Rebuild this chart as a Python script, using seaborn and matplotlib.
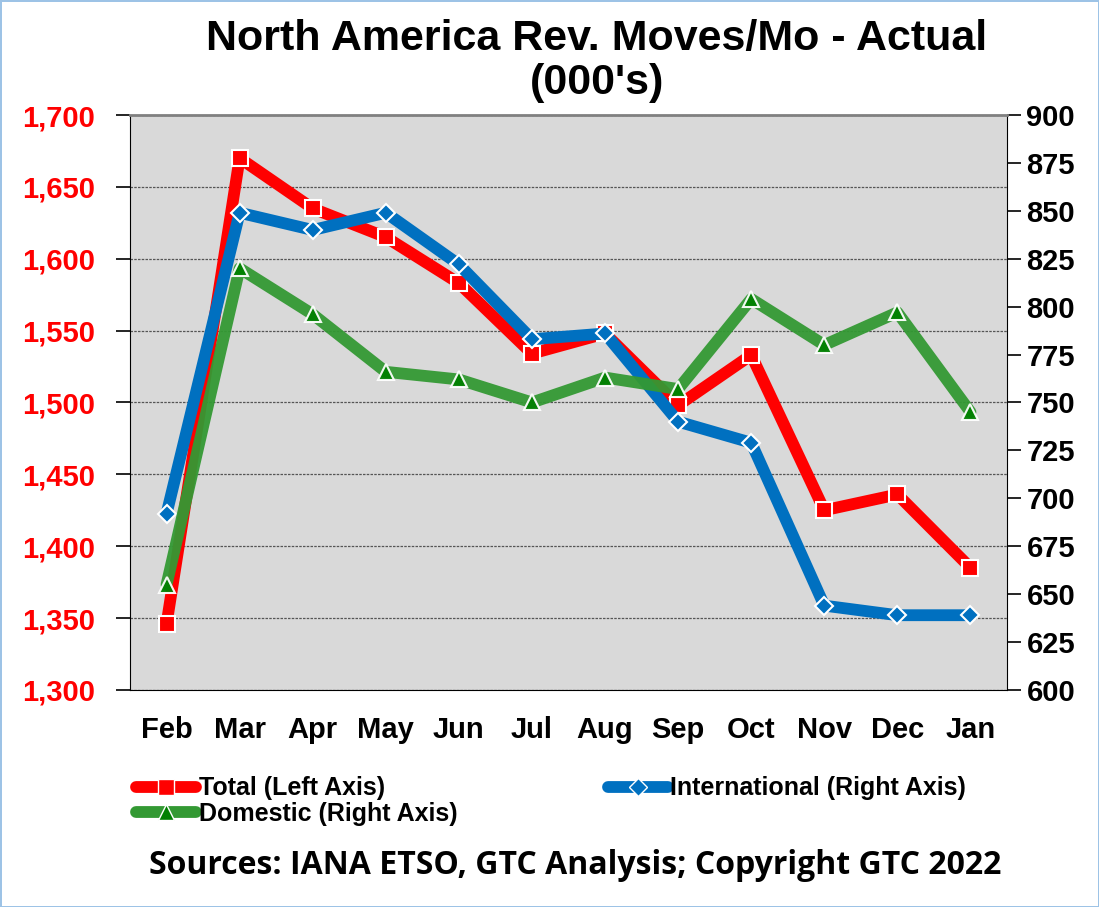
import pandas as pd
import seaborn as sns
import matplotlib.pyplot as plt
from matplotlib.lines import Line2D
from matplotlib.ticker import FuncFormatter

# datos
meses = ['Feb', 'Mar', 'Apr', 'May', 'Jun', 'Jul', 'Aug', 'Sep', 'Oct', 'Nov', 'Dec', 'Jan']
total = [1346, 1670, 1635, 1615, 1583, 1534, 1548, 1498, 1533, 1425, 1436, 1385]
internacional = [692, 849, 840, 849, 822, 783, 786, 740, 729, 644, 639, 639]
domestico = [655, 820, 796, 766, 762, 750, 763, 757, 804, 780, 797, 745]

df = pd.DataFrame({'Mes': meses, 'Total': total,
                   'International': internacional, 'Domestic': domestico})

sns.set_style('white')
plt.rcParams['font.family'] = ['Liberation Sans', 'DejaVu Sans']
plt.rcParams['text.color'] = 'black'

fig = plt.figure(figsize=(10.99, 9.07), dpi=100)
fig.patch.set_edgecolor('#9DC3E6')
fig.patch.set_linewidth(2)
ax = fig.add_axes([0.1183, 0.2393, 0.798, 0.6339])
ax.set_facecolor('#D9D9D9')

rojo = '#FF0000'
azul = '#0070C0'
verde = '#339933'

sns.lineplot(data=df, x='Mes', y='Total', ax=ax, color=rojo, lw=8.5, sort=False,
             marker='s', markersize=11, markerfacecolor=rojo,
             markeredgecolor='white', markeredgewidth=1.5, zorder=3)

ax2 = ax.twinx()
sns.lineplot(data=df, x='Mes', y='International', ax=ax2, color=azul, lw=8.5, sort=False,
             marker='D', markersize=9, markerfacecolor=azul,
             markeredgecolor='white', markeredgewidth=1.5, zorder=3)
sns.lineplot(data=df, x='Mes', y='Domestic', ax=ax2, color=verde, lw=8.5, sort=False,
             alpha=0.95, marker='^', markersize=12, markerfacecolor='#008000',
             markeredgecolor='white', markeredgewidth=1.5, zorder=4)

ax.set_xlim(-0.5, 11.5)
ax.set_ylim(1300, 1700)
ax2.set_ylim(600, 900)
ax.set_yticks(range(1300, 1701, 50))
ax2.set_yticks(range(600, 901, 25))
ax.yaxis.set_major_formatter(FuncFormatter(lambda v, p: f'{int(v):,}'))
ax.grid(axis='y', color='#555555', linestyle=(0, (2, 1)), linewidth=0.9)
ax.set_axisbelow(True)

ax.set_xticks(range(12))
ax.set_xticklabels(meses)
ax.set_xticks([i + 0.5 for i in range(-1, 12)], minor=True)
ax.tick_params(axis='x', which='major', length=0, pad=19, labelsize=21,
               labelcolor='black')
ax.tick_params(axis='x', which='minor', length=8, width=1.2, color='black', direction='out')
ax.tick_params(axis='y', length=10, width=1.2, color='black', direction='out',
               labelsize=21, labelcolor=rojo, pad=15)
ax2.tick_params(axis='y', length=10, width=1.2, color='black', direction='out',
                labelsize=21, labelcolor='black', pad=4)
for lab in ax.get_xticklabels() + ax.get_yticklabels() + ax2.get_yticklabels():
    lab.set_fontweight('bold')

ax.set_xlabel('')
ax.set_ylabel('')
ax2.set_ylabel('')
for a in (ax, ax2):
    for s in a.spines.values():
        s.set_visible(False)
ax.spines['left'].set_visible(True)
ax.spines['left'].set_color('black')
ax.spines['bottom'].set_visible(True)
ax.spines['bottom'].set_color('black')
ax2.spines['right'].set_visible(True)
ax2.spines['right'].set_color('black')
ax2.spines['top'].set_visible(True)
ax2.spines['top'].set_color('#808080')
ax2.spines['top'].set_linewidth(2)

# titulo
fig.text(0.543, 0.957, "North America Rev. Moves/Mo - Actual", ha='center', va='center',
         fontsize=31, fontweight='bold', color='black')
fig.text(0.543, 0.908, "(000's)", ha='center', va='center', fontsize=31,
         fontweight='bold', color='black')

# leyenda
h_total = Line2D([], [], color=rojo, lw=8.5, marker='s', markersize=11,
                 markerfacecolor=rojo, markeredgecolor='white')
h_int = Line2D([], [], color=azul, lw=8.5, marker='D', markersize=9,
               markerfacecolor=azul, markeredgecolor='white')
h_dom = Line2D([], [], color=verde, lw=8.5, marker='^', markersize=12,
               markerfacecolor='#008000', markeredgecolor='white')
fig.legend([h_total, h_dom, h_int],
           ['Total (Left Axis)', 'Domestic (Right Axis)', 'International (Right Axis)'],
           ncol=2, loc='upper left', bbox_to_anchor=(0.115, 0.155), frameon=False,
           prop={'weight': 'bold', 'size': 18}, handlelength=2.4, handletextpad=0.1,
           columnspacing=6.0, labelspacing=0.05, borderaxespad=0, labelcolor='black')

fig.text(0.523, 0.046, 'Sources: IANA ETSO, GTC Analysis; Copyright GTC 2022',
         ha='center', va='center', fontsize=23, fontweight='bold', color='black',
         family=['Open Sans', 'DejaVu Sans'])

plt.savefig('out.png', dpi=100)
